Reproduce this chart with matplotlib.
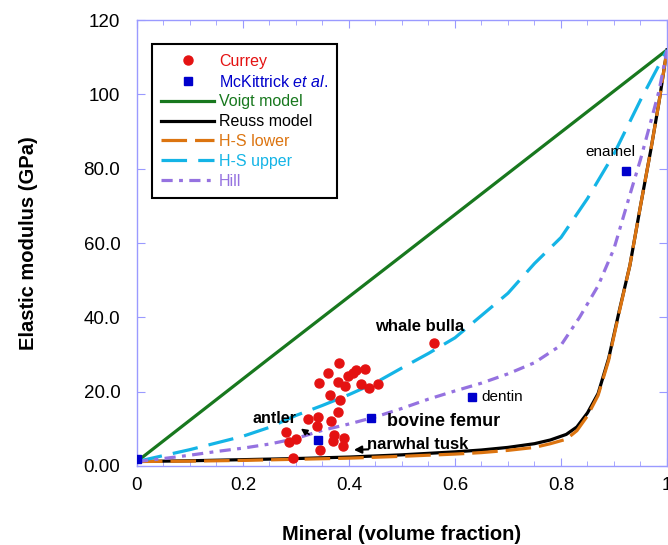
import matplotlib
matplotlib.use("Agg")
import matplotlib.pyplot as plt
from matplotlib.ticker import MultipleLocator, FixedLocator

plt.rcParams['font.family'] = ['Liberation Sans', 'DejaVu Sans']
plt.rcParams['mathtext.fontset'] = 'custom'
plt.rcParams['mathtext.rm'] = 'Liberation Sans'
plt.rcParams['mathtext.it'] = 'Liberation Sans:italic'

# model curves (mineral volume fraction, GPa)
voigt_x = [0.0, 0.25, 0.5, 0.75, 1.0]
voigt_E = [1.2, 29.0, 56.6, 84.3, 112.0]

reuss_x = [0.0, 0.1, 0.2, 0.3, 0.4, 0.5, 0.6, 0.65, 0.7, 0.75, 0.78, 0.81, 0.83,
           0.85, 0.87, 0.89, 0.91, 0.93, 0.95, 0.97, 0.985, 1.0]
reuss_E = [1.2, 1.4, 1.7, 2.0, 2.4, 3.0, 3.8, 4.3, 5.0, 6.0, 7.0, 8.5, 10.5,
           14.3, 19.5, 29.0, 41.8, 54.0, 70.0, 85.5, 98.0, 112.0]

hs_low_x = reuss_x
hs_low_E = [1.2, 1.3, 1.5, 1.8, 2.1, 2.6, 3.2, 3.6, 4.2, 5.0, 6.0, 7.2, 9.5,
            13.5, 19.0, 28.5, 41.5, 54.0, 70.0, 85.5, 98.0, 112.0]

hs_up_x = [0.0, 0.05, 0.1, 0.15, 0.2, 0.25, 0.3, 0.35, 0.4, 0.45, 0.5, 0.55,
           0.6, 0.65, 0.7, 0.75, 0.8, 0.85, 0.9, 0.95, 1.0]
hs_up_E = [1.2, 2.8, 4.4, 6.2, 8.0, 10.4, 13.6, 16.3, 19.2, 22.4, 26.4, 30.3,
           34.5, 40.5, 46.5, 54.5, 61.5, 72.0, 84.0, 98.5, 112.0]

hill_x = [0.0, 0.05, 0.1, 0.15, 0.2, 0.25, 0.3, 0.35, 0.4, 0.45, 0.5, 0.55, 0.6,
          0.65, 0.7, 0.75, 0.8, 0.835, 0.87, 0.9, 0.93, 0.95, 0.97, 0.985, 1.0]
hill_E = [1.2, 2.0, 2.9, 3.9, 4.8, 5.9, 7.4, 9.6, 11.3, 13.2, 15.5, 18.0, 20.2,
          22.3, 24.8, 27.8, 32.5, 40.0, 48.5, 58.5, 73.0, 82.5, 93.0, 101.0, 112.0]

# Currey data
currey_x = [0.382, 0.361, 0.343, 0.380, 0.393, 0.399, 0.408, 0.414, 0.430, 0.422,
            0.438, 0.454, 0.365, 0.383, 0.380, 0.366, 0.341, 0.323, 0.339, 0.281,
            0.300, 0.286, 0.372, 0.370, 0.390, 0.389, 0.345, 0.294, 0.560]
currey_E = [27.6, 24.9, 22.3, 22.7, 21.6, 24.3, 25.1, 25.9, 26.2, 22.2,
            21.1, 22.0, 19.1, 17.7, 14.6, 12.1, 13.2, 12.6, 10.8, 9.2,
            7.2, 6.5, 8.4, 6.7, 7.6, 5.3, 4.2, 2.1, 33.2]

# McKittrick et al. data
mck_x = [0.0, 0.341, 0.441, 0.632, 0.922]
mck_E = [1.9, 7.0, 12.9, 18.6, 79.5]

x_ticks = [0, 0.2, 0.4, 0.6, 0.8, 1.0]
x_ticklabels = ["0", "0.2", "0.4", "0.6", "0.8", "1"]
y_ticks = [0, 20, 40, 60, 80, 100, 120]
y_ticklabels = ["0.00", "20.0", "40.0", "60.0", "80.0", "100", "120"]

c_red = "#e41212"
c_blue = "#0000cc"
c_green = "#18781e"
c_orange = "#dc7410"
c_cyan = "#14b4e6"
c_purple = "#9572e0"
c_axis = "#9a9aff"

fig = plt.figure(figsize=(6.68, 5.45), dpi=100)
ax = fig.add_axes([0.205, 0.145, 0.7935, 0.818])

ax.plot(voigt_x, voigt_E, color=c_green, lw=2.3, label="Voigt model")
ax.plot(reuss_x, reuss_E, color="black", lw=2.3, label="Reuss model")
ax.plot(hs_low_x, hs_low_E, color=c_orange, lw=2.3, dashes=(8, 2.5), label="H-S lower")
ax.plot(hs_up_x, hs_up_E, color=c_cyan, lw=2.3, dashes=(8, 3.5), label="H-S upper")
ax.plot(hill_x, hill_E, color=c_purple, lw=2.3, dashes=(3.5, 2, 1.2, 2), label="Hill")

ax.plot(currey_x, currey_E, "o", color=c_red, ms=6.5, mec=c_red, ls="none", label="Currey", zorder=5)
ax.plot(mck_x, mck_E, "s", color=c_blue, ms=6.2, ls="none", label="McKittrick $\\mathit{et\\ al.}$", zorder=5)

ax.set_xlim(0, 1.0)
ax.set_ylim(0, 120)
ax.xaxis.set_major_locator(FixedLocator(x_ticks))
ax.set_xticklabels(x_ticklabels)
ax.xaxis.set_minor_locator(MultipleLocator(0.05))
ax.yaxis.set_major_locator(FixedLocator(y_ticks))
ax.set_yticklabels(y_ticklabels)

for s in ax.spines.values():
    s.set_color(c_axis)
    s.set_linewidth(1.0)
ax.tick_params(which="both", direction="in", top=True, right=True, color=c_axis,
               labelsize=13.5)
ax.tick_params(axis="x", pad=8)
ax.tick_params(axis="y", pad=12)
ax.tick_params(which="major", length=6)
ax.tick_params(which="minor", length=3.5)

ax.set_xlabel("Mineral (volume fraction)", fontsize=14.5, fontweight="bold", labelpad=22)
ax.set_ylabel("Elastic modulus (GPa)", fontsize=14.5, fontweight="bold", labelpad=33)

# annotations
ax.text(0.618, 37.5, "whale bulla", ha="right", va="center", fontsize=12, fontweight="bold")
ax.text(0.259, 12.9, "antler", ha="center", va="center", fontsize=11.5, fontweight="bold")
ax.annotate("", xy=(0.305, 10.5), xytext=(0.329, 8.1),
            arrowprops=dict(arrowstyle="-|>", color="black", lw=1.3, mutation_scale=9))
ax.text(0.472, 12.1, "bovine femur", ha="left", va="center", fontsize=13, fontweight="bold")
ax.text(0.434, 5.9, "narwhal tusk", ha="left", va="center", fontsize=12, fontweight="bold")
ax.annotate("", xy=(0.404, 4.3), xytext=(0.442, 4.5),
            arrowprops=dict(arrowstyle="-|>", color="black", lw=1.5, mutation_scale=11))
ax.text(0.650, 18.6, "dentin", ha="left", va="center", fontsize=11)
ax.text(0.893, 84.4, "enamel", ha="center", va="center", fontsize=11)

order = ["Currey", "McKittrick $\\mathit{et\\ al.}$", "Voigt model", "Reuss model",
         "H-S lower", "H-S upper", "Hill"]
handles, labels = ax.get_legend_handles_labels()
hmap = dict(zip(labels, handles))
leg = ax.legend([hmap[k] for k in order], order, loc="upper left",
                bbox_to_anchor=(0.028, 0.946), borderaxespad=0, fontsize=11.5,
                handlelength=3.3, handletextpad=0.3, labelspacing=0.3,
                numpoints=1, fancybox=False, framealpha=1, edgecolor="black",
                borderpad=0.6)
leg.get_frame().set_linewidth(1.5)
text_colors = [c_red, c_blue, c_green, "black", c_orange, c_cyan, c_purple]
for t, c in zip(leg.get_texts(), text_colors):
    t.set_color(c)

fig.savefig("out.png", dpi=100)
